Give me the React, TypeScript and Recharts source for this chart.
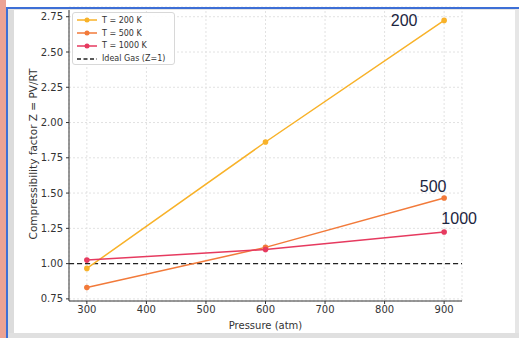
import React from "react";
import { CartesianGrid, LabelList, Line, LineChart, ReferenceLine, XAxis, YAxis } from "recharts";

const pressures = [300, 600, 900];
const z200 = [0.966, 1.862, 2.724];
const z500 = [0.83, 1.115, 1.465];
const z1000 = [1.025, 1.1, 1.224];
const xTicks = [300, 400, 500, 600, 700, 800, 900];
const yTicks = [0.75, 1.0, 1.25, 1.5, 1.75, 2.0, 2.25, 2.5, 2.75];

const data = pressures.map((p, i) => ({ p, t200: z200[i], t500: z500[i], t1000: z1000[i] }));

const series = [
  { key: "t200", name: "T = 200 K", color: "#f8b229", tag: "200", dx: -40, dy: 6 },
  { key: "t500", name: "T = 500 K", color: "#f27a3a", tag: "500", dx: -11, dy: -6 },
  { key: "t1000", name: "T = 1000 K", color: "#e63a5f", tag: "1000", dx: 15, dy: -8 },
];

const font = "DejaVu Sans, sans-serif";

// legend drawn as a plain overlay so it doesn't eat plot space
function LegendBox() {
  const rows = [
    ...series.map((s) => ({ name: s.name, color: s.color, dashed: false })),
    { name: "Ideal Gas (Z=1)", color: "#222", dashed: true },
  ];
  return (
    <div
      style={{
        position: "absolute",
        left: 72,
        top: 12,
        width: 103,
        height: 53,
        background: "rgba(255,255,255,0.9)",
        border: "1px solid #d8d8d8",
        borderRadius: 3,
        fontFamily: font,
        fontSize: 8,
        color: "#333",
        boxSizing: "border-box",
        paddingTop: 1,
      }}
    >
      {rows.map((r) => (
        <div key={r.name} style={{ display: "flex", alignItems: "center", height: 12.8 }}>
          <svg width={26} height={8} style={{ marginLeft: 3 }}>
            <line x1={1} x2={21} y1={4} y2={4} stroke={r.color} strokeWidth={1.5} strokeDasharray={r.dashed ? "4 2.5" : undefined} />
            {!r.dashed && <circle cx={11} cy={4} r={2.5} fill={r.color} />}
          </svg>
          <span>{r.name}</span>
        </div>
      ))}
    </div>
  );
}

function makeTag(tag: string, dx: number, dy: number) {
  return (props: any) => {
    if (props.index !== pressures.length - 1) return null;
    return (
      <text x={props.x + dx} y={props.y + dy} textAnchor="middle" fontSize={16} fill="#1c2540" fontFamily="Liberation Sans, Arial, sans-serif">
        {tag}
      </text>
    );
  };
}

export default function App() {
  return (
    <div style={{ position: "fixed", left: 0, top: 0, width: 519, height: 338, background: "#fff", overflow: "hidden" }}>
      <div style={{ position: "absolute", left: 0, top: 0 }}>
        <LineChart width={519} height={338} data={data} margin={{ top: 7, right: 57, bottom: 2, left: 0 }}>
          <CartesianGrid stroke="#e2e2e2" strokeDasharray="2 2" />
          <XAxis
            dataKey="p"
            type="number"
            domain={[270, 930]}
            ticks={xTicks}
            height={35}
            tickSize={3}
            tickMargin={2}
            stroke="#333"
            tick={{ fill: "#333", fontSize: 10, fontFamily: font }}
            label={{ value: "Pressure (atm)", position: "insideBottom", offset: 7, fill: "#333", fontSize: 10, fontFamily: font }}
          />
          <YAxis
            type="number"
            domain={[0.735, 2.819]}
            ticks={yTicks}
            width={69}
            tickSize={3}
            tickMargin={3}
            stroke="#333"
            tickFormatter={(v: number) => v.toFixed(2)}
            tick={{ fill: "#333", fontSize: 10, fontFamily: font }}
            label={{ value: "Compressibility factor Z = PV/RT", angle: -90, position: "center", dx: -1, fill: "#333", fontSize: 10.5, fontFamily: font }}
          />
          <ReferenceLine y={1} stroke="#222" strokeWidth={1.4} strokeDasharray="5 3" />
          {series.map((s) => (
            <Line
              key={s.key}
              dataKey={s.key}
              name={s.name}
              stroke={s.color}
              strokeWidth={1.5}
              dot={{ r: 2.8, fill: s.color, stroke: s.color, strokeWidth: 0 }}
              activeDot={false}
              isAnimationActive={false}
            >
              <LabelList dataKey={s.key} content={makeTag(s.tag, s.dx, s.dy)} />
            </Line>
          ))}
        </LineChart>
      </div>
      <LegendBox />
      {/* screenshot frame */}
      <div style={{ position: "absolute", left: 0, top: 0, width: 6, height: 338, background: "#eba394" }} />
      <div style={{ position: "absolute", left: 6, top: 8, width: 2, height: 330, background: "#3d6fd6" }} />
      <div style={{ position: "absolute", left: 8, top: 10, width: 6, height: 328, background: "#dcdcdc" }} />
      <div style={{ position: "absolute", left: 6, top: 7, width: 513, height: 2, background: "#3d6fd6" }} />
      <div style={{ position: "absolute", left: 8, top: 9, width: 511, height: 1, background: "#e4e4e4" }} />
      <div style={{ position: "absolute", left: 515, top: 9, width: 4, height: 329, background: "#e6e6e6" }} />
      <div style={{ position: "absolute", left: 8, top: 333, width: 511, height: 5, background: "#e0e0e0" }} />
    </div>
  );
}
